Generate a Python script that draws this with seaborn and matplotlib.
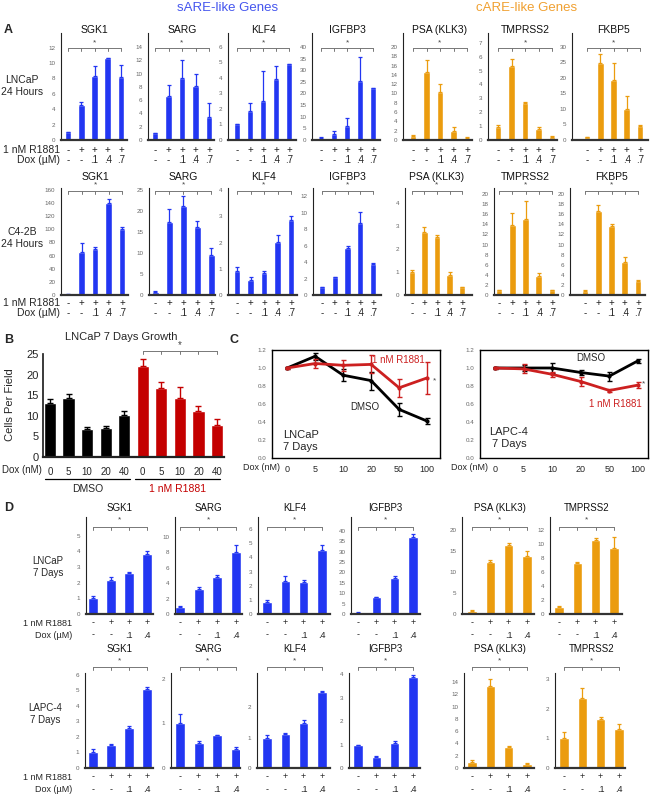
import matplotlib

matplotlib.use("Agg")

import matplotlib.pyplot as plt
import matplotlib.transforms as mtransforms
import numpy as np
import pandas as pd
import seaborn as sns

sns.set_theme(style="white")
plt.rcParams["font.family"] = ["Liberation Sans", "DejaVu Sans"]

BLUE = "#2236f2"
ORANGE = "#eb9c0e"
RED = "#c40000"
LINE_RED = "#cc2020"
GRAY = "#666666"

# ---------------- data ----------------
GENES_A = ["SGK1", "SARG", "KLF4", "IGFBP3", "PSA (KLK3)", "TMPRSS2", "FKBP5"]
GENES_D = ["SGK1", "SARG", "KLF4", "IGFBP3", "PSA (KLK3)", "TMPRSS2"]
R1881_A = ["-", "+", "+", "+", "+"]
DOX_A = ["-", "-", ".1", ".4", ".7"]
R1881_D = ["-", "+", "+", "+"]
DOX_D = ["-", "-", ".1", ".4"]

# A, LNCaP 24 h
A1_MEAN = [[1.0, 4.5, 8.3, 10.6, 8.2],
           [1.0, 6.6, 9.3, 8.1, 3.4],
           [1.0, 1.9, 2.5, 3.95, 4.9],
           [1.0, 2.7, 6.0, 25.5, 22.3],
           [0.9, 14.7, 10.3, 2.0, 0.5],
           [0.9, 5.3, 2.65, 0.8, 0.25],
           [1.0, 24.8, 19.3, 10.1, 4.6]]
A1_ERR = [[0.05, 0.5, 1.3, 0.1, 1.6],
          [0.05, 1.7, 2.7, 1.9, 2.1],
          [0.03, 0.5, 1.95, 0.85, 0.03],
          [0.2, 1.2, 3.3, 10.0, 0.2],
          [0.1, 2.5, 1.8, 0.9, 0.05],
          [0.15, 0.5, 0.05, 0.15, 0.05],
          [0.1, 3.0, 5.5, 4.0, 0.1]]
A1_YMAX = [13.9, 16.1, 6.9, 46, 23, 7.7, 34.5]
A1_YTICKS = [range(0, 13, 2), range(0, 15, 2), range(0, 7), range(0, 41, 5),
             range(0, 21, 2), range(0, 8), range(0, 31, 5)]

# A, C4-2B 24 h
A2_MEAN = [[1.5, 66, 70, 140, 101],
           [0.8, 17.5, 21.2, 16.2, 9.6],
           [0.9, 0.57, 0.83, 2.02, 2.85],
           [0.95, 2.15, 5.7, 8.8, 3.75],
           [1.0, 2.75, 2.5, 0.85, 0.33],
           [1.0, 13.8, 15.0, 3.7, 1.0],
           [0.8, 16.7, 13.7, 6.5, 2.8]]
A2_ERR = [[0.3, 13, 3, 7, 2],
          [0.15, 3.0, 2.5, 1.5, 1.5],
          [0.15, 0.1, 0.1, 0.25, 0.18],
          [0.05, 0.05, 0.2, 1.3, 0.15],
          [0.07, 0.2, 0.12, 0.15, 0.02],
          [0.05, 2.5, 3.6, 0.7, 0.05],
          [0.1, 1.1, 0.3, 1.0, 0.1]]
A2_YMAX = [163, 25.5, 4.08, 13, 4.65, 21.2, 21.2]
A2_YTICKS = [range(0, 161, 20), range(0, 26, 5), range(0, 5), range(0, 13, 2),
             range(0, 5), range(0, 21, 2), range(0, 21, 2)]

# B, LNCaP 7 day growth
B_DOX = ["0", "5", "10", "20", "40"]
B_DMSO = [13.2, 14.2, 6.9, 7.0, 10.2]
B_DMSO_ERR = [0.8, 1.1, 0.5, 0.6, 1.0]
B_R1881 = [22.0, 16.8, 14.2, 11.1, 7.7]
B_R1881_ERR = [1.8, 1.5, 2.9, 1.4, 1.5]

# C, relative growth
C_DOX = ["0", "5", "10", "20", "50", "100"]
C_LN_DMSO = [1.0, 1.13, 0.92, 0.86, 0.54, 0.41]
C_LN_DMSO_ERR = [0.01, 0.04, 0.065, 0.1, 0.07, 0.03]
C_LN_R1881 = [1.0, 1.05, 1.03, 1.04, 0.78, 0.89]
C_LN_R1881_ERR = [0.01, 0.05, 0.06, 0.1, 0.1, 0.18]
C_LA_DMSO = [1.0, 1.0, 1.0, 0.95, 0.91, 1.08]
C_LA_DMSO_ERR = [0.01, 0.03, 0.06, 0.03, 0.05, 0.02]
C_LA_R1881 = [1.0, 0.99, 0.93, 0.85, 0.75, 0.81]
C_LA_R1881_ERR = [0.01, 0.05, 0.03, 0.05, 0.02, 0.03]

# D, LNCaP 7 days
D1_MEAN = [[1.0, 2.15, 2.6, 3.85],
           [0.9, 3.25, 4.75, 8.1],
           [0.85, 2.35, 2.25, 4.5],
           [0.5, 8.0, 17.5, 37.0],
           [0.8, 12.3, 16.5, 13.7],
           [1.0, 7.3, 10.6, 9.5]]
D1_ERR = [[0.12, 0.2, 0.08, 0.15],
          [0.1, 0.2, 0.3, 0.8],
          [0.15, 0.3, 0.12, 0.4],
          [0.3, 0.3, 1.0, 1.5],
          [0.1, 0.5, 0.4, 1.2],
          [0.1, 0.2, 0.3, 1.6]]
D1_YMAX = [6.2, 12.6, 6.85, 46.7, 23.1, 13.9]
D1_YTICKS = [range(0, 6), range(0, 11, 2), range(0, 7), range(0, 41, 5),
             range(0, 21, 5), range(0, 13, 2)]

# D, LAPC-4 7 days
D2_MEAN = [[1.0, 1.45, 2.55, 5.1],
           [1.0, 0.55, 0.73, 0.42],
           [1.0, 1.12, 1.47, 2.5],
           [0.98, 0.45, 1.07, 3.9],
           [1.0, 13.3, 3.4, 0.7],
           [1.0, 2.35, 1.65, 1.32]]
D2_ERR = [[0.2, 0.12, 0.15, 0.15],
          [0.2, 0.05, 0.02, 0.06],
          [0.08, 0.04, 0.12, 0.02],
          [0.02, 0.06, 0.1, 0.05],
          [0.3, 1.2, 0.2, 0.1],
          [0.2, 0.35, 0.07, 0.15]]
D2_YMAX = [6.12, 2.13, 3.12, 4.05, 15.5, 3.2]
D2_YTICKS = [range(0, 7), range(0, 3), range(0, 3), range(0, 5),
             range(0, 15, 2), range(0, 4)]

# ---------------- layout (pixels) ----------------
W, H = 654, 798
# (spine x, first bar x, last bar x, right end x)
GEO_A1 = [(61, 68, 121, 127), (148, 155, 209, 214), (228, 237, 289, 296),
          (312, 321, 373, 380), (403, 413, 467, 472), (488, 498, 552, 557),
          (572, 587, 640, 648)]
GEO_A2 = [(61, 68, 122, 128), (149, 155, 211, 215), (228, 237, 291, 297),
          (313, 322, 373, 381), (405, 412, 462, 472), (494, 499, 552, 558),
          (570, 585, 638, 645)]
GEO_D1 = [(86, 93, 147, 153), (175, 180, 236, 242), (258, 267, 322, 330),
          (351, 358, 413, 420), (462, 472, 527, 534), (550, 559, 614, 622)]
GEO_D2 = [(85, 93, 147, 153), (171, 180, 236, 240), (257, 267, 322, 330),
          (349, 358, 413, 420), (464, 472, 527, 534), (555, 564, 619, 625)]
ROW_A1 = dict(top=33, bottom=140, title=30, star=43, bracket=48, sign=150, dox=160)
ROW_A2 = dict(top=188, bottom=295, title=177, star=185, bracket=191, sign=303, dox=313)
ROW_D1 = dict(top=517, bottom=614, title=508, star=520, bracket=527, sign=623, dox=635)
ROW_D2 = dict(top=673, bottom=768, title=649, star=661, bracket=667, sign=777, dox=790)

fig = plt.figure(figsize=(W / 100, H / 100), dpi=100)


def fy(y):
    return 1 - y / H


def px_axes(left, top, right, bottom):
    return fig.add_axes([left / W, fy(bottom), (right - left) / W, (bottom - top) / H])


def ftext(x, y, s, **kw):
    fig.text(x / W, fy(y), s, **kw)


def bracket(ax, xs, ypx, star_ypx, tick=3, color="#777777", star_size=6):
    tr = mtransforms.blended_transform_factory(ax.transData, fig.transFigure)
    ax.plot([xs[0], xs[-1]], [fy(ypx), fy(ypx)], transform=tr, color=color,
            lw=0.7, clip_on=False)
    for x in xs:
        ax.plot([x, x], [fy(ypx), fy(ypx + tick)], transform=tr, color=color,
                lw=0.7, clip_on=False)
    ax.text(np.mean([xs[0], xs[-1]]), fy(star_ypx), "*", transform=tr,
            ha="center", va="center", fontsize=star_size, color="#444444")


def bar_chart(geo, row, title, vals, errs, color, ymax, yticks, r1881, dox,
              width, fs_title, fs_sign):
    spine, first, last, right = geo
    n = len(vals)
    step = (last - first) / (n - 1)
    idx = np.arange(n)
    ax = px_axes(spine, row["top"], right, row["bottom"])
    sns.barplot(x=idx, y=vals, color=color, saturation=1, width=width,
                errorbar=None, ax=ax)
    ax.errorbar(idx, vals, yerr=[np.zeros(n), errs], fmt="none", ecolor=color,
                elinewidth=0.9, capsize=1.5, capthick=0.9)
    ax.set_xlim((spine - first) / step, (right - first) / step)
    ax.set_ylim(0, ymax)
    ax.set_yticks(list(yticks))
    ax.set_xticks([])
    ax.set_xlabel("")
    ax.set_ylabel("")
    ax.tick_params(axis="y", labelsize=4.5, labelcolor=GRAY, length=0, pad=4)
    for s in ["top", "right"]:
        ax.spines[s].set_visible(False)
    ax.spines["left"].set_color("#222222")
    ax.spines["left"].set_linewidth(0.8)
    ax.spines["bottom"].set_color("#333333")
    ax.spines["bottom"].set_linewidth(1.6)
    tr = mtransforms.blended_transform_factory(ax.transData, fig.transFigure)
    mid = (n - 1) / 2
    ax.text(mid, fy(row["title"]), title, transform=tr, ha="center",
            va="center", fontsize=fs_title, color="#111111")
    for i in range(n):
        ax.text(i, fy(row["sign"]), r1881[i], transform=tr, ha="center",
                va="center", fontsize=fs_sign, color="#222222")
        ax.text(i, fy(row["dox"]), dox[i], transform=tr, ha="center",
                va="center", fontsize=fs_sign, color="#222222")
    bracket(ax, list(idx), row["bracket"], row["star"])
    return ax


# ---------------- panel A ----------------
colors_a = [BLUE] * 4 + [ORANGE] * 3
for i, g in enumerate(GENES_A):
    bar_chart(GEO_A1[i], ROW_A1, g, A1_MEAN[i], A1_ERR[i], colors_a[i],
              A1_YMAX[i], A1_YTICKS[i], R1881_A, DOX_A, 0.5, 7.5, 7)
    bar_chart(GEO_A2[i], ROW_A2, g, A2_MEAN[i], A2_ERR[i], colors_a[i],
              A2_YMAX[i], A2_YTICKS[i], R1881_A, DOX_A, 0.5, 7.5, 7)

ftext(228, 8, "sARE-like Genes", ha="center", va="center", fontsize=9.5, color="#4455ee")
ftext(527, 8, "cARE-like Genes", ha="center", va="center", fontsize=9.5, color="#f0a030")
ftext(4, 30, "A", ha="left", va="center", fontsize=9, fontweight="bold")
ftext(22, 86, "LNCaP\n24 Hours", ha="center", va="center", fontsize=7.5, linespacing=1.2)
ftext(22, 238, "C4-2B\n24 Hours", ha="center", va="center", fontsize=7.5, linespacing=1.2)
for row in [ROW_A1, ROW_A2]:
    ftext(60, row["sign"], "1 nM R1881", ha="right", va="center", fontsize=7.5)
    ftext(60, row["dox"], "Dox (µM)", ha="right", va="center", fontsize=7.5)

# ---------------- panel B ----------------
b_df = pd.DataFrame({
    "pos": np.arange(10),
    "cells": B_DMSO + B_R1881,
    "err": B_DMSO_ERR + B_R1881_ERR,
    "group": ["DMSO"] * 5 + ["R1881"] * 5,
})
b_step = (217 - 50) / 9
axb = px_axes(43, 354, 224, 457)
sns.barplot(data=b_df, x="pos", y="cells", hue="group",
            palette={"DMSO": "black", "R1881": RED}, dodge=False, saturation=1,
            width=0.66, errorbar=None, legend=False, ax=axb)
for grp, col in [("DMSO", "black"), ("R1881", RED)]:
    sub = b_df[b_df["group"] == grp]
    axb.errorbar(sub["pos"], sub["cells"], yerr=[np.zeros(len(sub)), sub["err"]],
                 fmt="none", ecolor=col, elinewidth=1, capsize=2, capthick=1)
axb.set_xlim((43 - 50) / b_step, (224 - 50) / b_step)
axb.set_ylim(0, 25)
axb.set_yticks(range(0, 26, 5))
axb.set_xticks(range(10))
axb.set_xticklabels(B_DOX + B_DOX)
axb.set_xlabel("")
axb.set_ylabel("")
axb.tick_params(axis="y", labelsize=8, length=0, pad=3)
axb.tick_params(axis="x", labelsize=7, length=0, pad=7)
for s in ["top", "right"]:
    axb.spines[s].set_visible(False)
axb.spines["left"].set_color("#222222")
axb.spines["bottom"].set_color("#222222")
axb.spines["bottom"].set_linewidth(1.6)
bracket(axb, list(range(5, 10)), 351, 345, tick=3, star_size=7)
ftext(4, 340, "B", ha="left", va="center", fontsize=9, fontweight="bold")
ftext(121, 337, "LNCaP 7 Days Growth", ha="center", va="center", fontsize=8)
ftext(10, 405, "Cells Per Field", ha="center", va="center", fontsize=8, rotation=90)
ftext(42, 470, "Dox (nM)", ha="right", va="center", fontsize=7)
fig.add_artist(plt.Line2D([45 / W, 130 / W], [fy(479), fy(479)], color="black", lw=0.9))
fig.add_artist(plt.Line2D([135 / W, 220 / W], [fy(479), fy(479)], color="black", lw=0.9))
ftext(88, 489, "DMSO", ha="center", va="center", fontsize=7.5)
ftext(178, 489, "1 nM R1881", ha="center", va="center", fontsize=7.5, color=RED)

# ---------------- panel C ----------------


def growth_chart(box, xlim, dmso, dmso_err, r1881, r1881_err, dox_right):
    ax = px_axes(*box)
    pos = np.arange(len(C_DOX))
    for vals, errs, col in [(dmso, dmso_err, "black"), (r1881, r1881_err, LINE_RED)]:
        sns.lineplot(x=pos, y=vals, color=col, lw=2, marker="o", markersize=3,
                     markeredgewidth=0, ax=ax)
        ax.errorbar(pos, vals, yerr=errs, fmt="none", ecolor=col, elinewidth=1,
                    capsize=1.8, capthick=1)
    ax.set_xlim(*xlim)
    ax.set_ylim(0, 1.2)
    ax.set_yticks(np.arange(0, 1.21, 0.2))
    ax.set_yticklabels([f"{v:.1f}" for v in np.arange(0, 1.21, 0.2)])
    ax.set_xticks(pos)
    ax.set_xticklabels(C_DOX)
    ax.tick_params(axis="y", labelsize=4.5, labelcolor=GRAY, length=0, pad=4)
    ax.tick_params(axis="x", labelsize=6.5, length=0, pad=5)
    for s in ax.spines.values():
        s.set_color("black")
        s.set_linewidth(1)
    ftext(dox_right, 468, "Dox (nM)", ha="right", va="center", fontsize=6.5)
    return ax


growth_chart((272, 350, 440, 458), (-0.54, 5.46), C_LN_DMSO, C_LN_DMSO_ERR,
             C_LN_R1881, C_LN_R1881_ERR, 280)
ftext(398, 360, "1 nM R1881", ha="center", va="center", fontsize=7, color=LINE_RED)
ftext(365, 407, "DMSO", ha="center", va="center", fontsize=7)
ftext(434, 381, "*", ha="center", va="center", fontsize=6, color="#444444")
ftext(283, 441, "LNCaP\n7 Days", ha="left", va="center", fontsize=8, linespacing=1.15)

growth_chart((480, 350, 648, 458), (-0.52, 5.35), C_LA_DMSO, C_LA_DMSO_ERR,
             C_LA_R1881, C_LA_R1881_ERR, 488)
ftext(591, 358, "DMSO", ha="center", va="center", fontsize=7)
ftext(615, 404, "1 nM R1881", ha="center", va="center", fontsize=7, color=LINE_RED)
ftext(644, 384, "*", ha="center", va="center", fontsize=6, color="#444444")
ftext(509, 438, "LAPC-4\n7 Days", ha="center", va="center", fontsize=8, linespacing=1.15)
ftext(230, 340, "C", ha="left", va="center", fontsize=9, fontweight="bold")

# ---------------- panel D ----------------
colors_d = [BLUE] * 4 + [ORANGE] * 2
for i, g in enumerate(GENES_D):
    bar_chart(GEO_D1[i], ROW_D1, g, D1_MEAN[i], D1_ERR[i], colors_d[i],
              D1_YMAX[i], D1_YTICKS[i], R1881_D, DOX_D, 0.52, 7, 6.5)
    bar_chart(GEO_D2[i], ROW_D2, g, D2_MEAN[i], D2_ERR[i], colors_d[i],
              D2_YMAX[i], D2_YTICKS[i], R1881_D, DOX_D, 0.52, 7, 6.5)

ftext(4, 508, "D", ha="left", va="center", fontsize=9, fontweight="bold")
ftext(48, 567, "LNCaP\n7 Days", ha="center", va="center", fontsize=7, linespacing=1.3)
ftext(45, 714, "LAPC-4\n7 Days", ha="center", va="center", fontsize=7, linespacing=1.3)
for row in [ROW_D1, ROW_D2]:
    ftext(72, row["sign"], "1 nM R1881", ha="right", va="center", fontsize=6.5)
    ftext(72, row["dox"], "Dox (µM)", ha="right", va="center", fontsize=6.5)

fig.savefig("out.png", dpi=100)
